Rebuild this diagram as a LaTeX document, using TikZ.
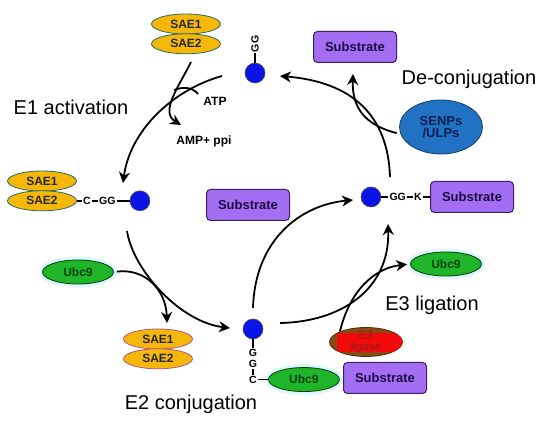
\documentclass[tikz,border=0pt]{standalone}
\usepackage{fontspec}
\setmainfont{Liberation Sans}
\usepackage{xcolor}
\usetikzlibrary{arrows.meta,positioning,shapes.geometric}

\definecolor{saeyellow}{HTML}{F5B80A}
\definecolor{saeline}{HTML}{2F6A5A}
\definecolor{saepink}{HTML}{B2587A}
\definecolor{subfill}{HTML}{A46EF2}
\definecolor{subline}{HTML}{3C1E64}
\definecolor{subtext}{HTML}{1E0A46}
\definecolor{dotblue}{HTML}{0A14E6}
\definecolor{ubcgreen}{HTML}{1FB52A}
\definecolor{ubctext}{HTML}{0A420F}
\definecolor{senpblue}{HTML}{2272C3}
\definecolor{senptext}{HTML}{0B1F55}
\definecolor{ligbrown}{HTML}{8A4A14}
\definecolor{ligred}{HTML}{F00A0A}
\definecolor{ligtext}{HTML}{9A1A1A}

\begin{document}
\begin{tikzpicture}[
  x=1pt, y=-1pt,
  sae/.style={ellipse, draw=saeline, fill=saeyellow, line width=0.8pt, minimum width=69pt,
    minimum height=20pt, inner sep=0pt, text=black!85, font=\fontsize{12}{13}\selectfont\bfseries},
  saeb/.style={sae, draw=saepink},
  subst/.style={draw=subline, fill=subfill, rounded corners=4pt, line width=1pt, minimum width=83pt,
    minimum height=31pt, text=subtext, font=\fontsize{13}{14}\selectfont\bfseries},
  dot/.style={circle, fill=dotblue, draw=black!70, line width=0.6pt, minimum size=20pt, inner sep=0pt},
  ubc/.style={ellipse, fill=ubcgreen, draw=green!25!black, line width=0.8pt, minimum width=71pt,
    minimum height=24pt, inner sep=0pt, text=ubctext, font=\fontsize{12}{13}\selectfont\bfseries,
    preaction={draw=cyan!12, line width=7pt}},
  tag/.style={inner sep=1pt, font=\fontsize{10.5}{10.5}\selectfont\bfseries},
  phase/.style={font=\fontsize{20}{24}\selectfont},
  small/.style={font=\fontsize{12}{13}\selectfont\bfseries},
  link/.style={line width=1.6pt},
  arr/.style={line width=1.8pt, -{Stealth[length=11pt, width=11pt, inset=3.5pt]}}
]
  \useasboundingbox (0,0) rectangle (550,422);

  % top: free SUMO and E1
  \node[sae] (saeT1) at (186,24) {SAE1};
  \node[sae, below=-1pt of saeT1] (saeT2) {SAE2};
  \node[dot] (dotT) at (255,73) {};
  \node[tag, rotate=90] (ggT) at (255,44) {GG};
  \draw[link] (dotT) -- (ggT);
  \node[subst] (subT) at (355,47) {Substrate};
  \node[ellipse, fill=senpblue, draw=senpblue!55!black, line width=0.8pt, minimum width=83pt,
    minimum height=54pt, inner sep=0pt, align=center, text=senptext,
    font=\fontsize{13}{12.5}\selectfont\bfseries] (senp) at (441,127) {SENPs\\/ULPs};

  % left: E1 thioester
  \node[sae] (saeL1) at (42,181) {SAE1};
  \node[sae, below=-1pt of saeL1] (saeL2) {SAE2};
  \node[tag, right=5pt of saeL2] (cL) {C};
  \node[tag, right=6pt of cL] (ggL) {GG};
  \node[dot, right=13pt of ggL] (dotL) {};
  \draw[link] (saeL2) -- (cL) -- (ggL) -- (dotL);

  \node[subst] (subM) at (248,205) {Substrate};

  % right: conjugated substrate
  \node[dot] (dotR) at (371,197) {};
  \node[tag, right=7pt of dotR] (ggR) {GG};
  \node[tag, right=6pt of ggR] (kR) {K};
  \node[subst, right=7pt of kR] (subR) {Substrate};
  \draw[link] (dotR) -- (ggR) -- (kR) -- (subR);

  % E2 step
  \node[ubc] (ubcL) at (78,272) {Ubc9};
  \node[ubc] (ubcR) at (446,264) {Ubc9};
  \node[saeb] (saeB1) at (158,339) {SAE1};
  \node[saeb, below=-1pt of saeB1] (saeB2) {SAE2};
  \node[dot] (dotB) at (253,329) {};
  \node[tag, align=center, below=9pt of dotB] (ggB) {G\\G};
  \node[tag, below=6pt of ggB] (cB) {C};
  \node[ubc, right=10pt of cB] (ubcB) {Ubc9};
  \draw[link] (dotB) -- (ggB) -- (cB) -- (ubcB);

  % E3 step (brown ellipse with a red patch)
  \node[ellipse, fill=ligbrown, draw=ligbrown!60!black, line width=0.8pt, minimum width=73pt,
    minimum height=29pt, inner sep=0pt] (lig) at (366,342) {};
  \begin{scope}
    \clip (lig.center) ellipse [x radius=36.5pt, y radius=14.5pt];
    \fill[ligred] ([xshift=-29pt, yshift=-10pt]lig.center) rectangle ([xshift=36pt, yshift=9pt]lig.center);
  \end{scope}
  \node[align=center, text=ligtext, font=\fontsize{11.5}{11}\selectfont] (ligtxt) at (lig.center) {E3\\ligase};
  \node[subst] (subB) at (385,378) {Substrate};

  % labels
  \node[phase] (lblE1) at (71,107) {E1 activation};
  \node[phase] (lblDe) at (469,79) {De-conjugation};
  \node[phase] (lblE3) at (432,305) {E3 ligation};
  \node[phase] (lblE2) at (191,404) {E2 conjugation};
  \node[small] (atp) at (215,101) {ATP};
  \node[small] (amp) at (204,141) {AMP+ ppi};

  % free ends of the cycle arcs
  \coordinate (e1s) at (222,76);
  \coordinate (e1e) at (123,183);
  \coordinate (saes) at (191,62);
  \coordinate (ampe) at (181,125);
  \coordinate (atpj) at (174,90);
  \coordinate (atpe) at (198,94);
  \coordinate (e2s) at (127,231);
  \coordinate (e2e) at (230,328);
  \coordinate (ubce) at (167,323);
  \coordinate (e3s) at (253,308);
  \coordinate (e3e) at (353,200);
  \coordinate (lgs) at (280,323);
  \coordinate (lge) at (388,224);
  \coordinate (des) at (390,177);
  \coordinate (dee) at (280,76);
  \coordinate (sbe) at (353,74);

  % E1 activation
  \draw[arr] (e1s) .. controls (172,90) and (130,131) .. (e1e);
  \draw[arr] (saes) .. controls (178,88) and (160,112) .. (ampe);
  \draw[line width=1.8pt] (atpj) .. controls (185,86) and (193,88) .. (atpe);
  % E2 conjugation
  \draw[arr] (e2s) .. controls (133,270) and (180,322) .. (e2e);
  \draw[arr, shorten <=3pt] (ubcL.east) .. controls (145,268) and (166,290) .. (ubce);
  % E3 ligation
  \draw[arr] (e3s) .. controls (255,240) and (300,205) .. (e3e);
  \draw[arr] (lgs) .. controls (340,322) and (390,290) .. (lge);
  \draw[arr, shorten >=3pt] (lig.north west) .. controls (350,290) and (375,268) .. (ubcR.west);
  % de-conjugation
  \draw[arr] (des) .. controls (388,115) and (352,82) .. (dee);
  \draw[arr, shorten <=4pt] (senp.190) .. controls (365,125) and (352,108) .. (sbe);
\end{tikzpicture}
\end{document}
